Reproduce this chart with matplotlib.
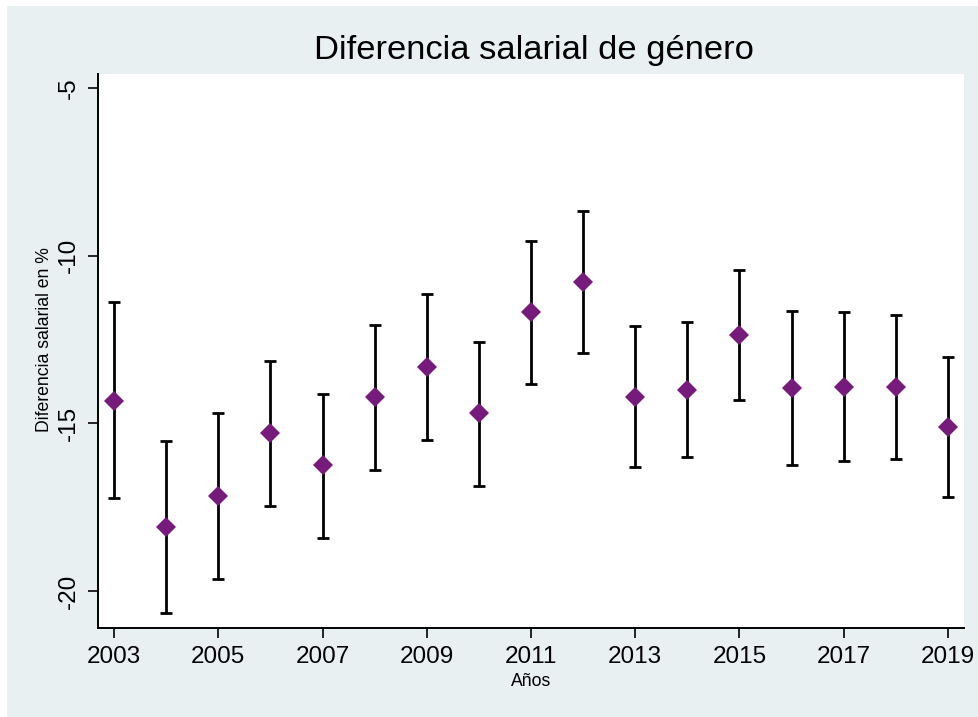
import numpy as np
import matplotlib
matplotlib.use("Agg")
from matplotlib import pyplot as plt
from matplotlib.patches import Rectangle

# data
years = [2003, 2004, 2005, 2006, 2007, 2008, 2009, 2010, 2011,
         2012, 2013, 2014, 2015, 2016, 2017, 2018, 2019]
gap = [-14.33, -18.08, -17.16, -15.30, -16.25, -14.22, -13.33, -14.70, -11.69,
       -10.79, -14.20, -14.00, -12.35, -13.94, -13.91, -13.92, -15.10]
ci_upper = [-11.38, -15.52, -14.68, -13.14, -14.11, -12.05, -11.15, -12.56, -9.56,
            -8.66, -12.10, -11.98, -10.41, -11.65, -11.69, -11.78, -13.01]
ci_lower = [-17.23, -20.64, -19.63, -17.47, -18.41, -16.38, -15.48, -16.86, -13.82,
            -12.91, -16.31, -16.01, -14.30, -16.25, -16.11, -16.05, -17.18]
xticks = [2003, 2005, 2007, 2009, 2011, 2013, 2015, 2017, 2019]
yticks = [-20, -15, -10, -5]

plt.rcParams['font.family'] = ['Liberation Sans', 'DejaVu Sans']

bg = '#e9f0f2'
purple = '#761b7c'

fig = plt.figure(figsize=(9.79, 7.17), dpi=100)
fig.patch.set_facecolor('white')
fig.patches.append(Rectangle((7 / 979, 0), 1, 1 - 6 / 717, transform=fig.transFigure,
                             facecolor=bg, edgecolor='none', zorder=-10))

ax = fig.add_axes([98 / 979, 1 - 628 / 717, 866 / 979, 554 / 717])
ax.set_facecolor('white')

gap = np.array(gap)
yerr = np.vstack([gap - np.array(ci_lower), np.array(ci_upper) - gap])
ax.errorbar(years, gap, yerr=yerr, fmt='none', ecolor='black',
            elinewidth=2.0, capsize=4.5, capthick=2.0, zorder=2)
ax.plot(years, gap, linestyle='none', marker='D', markersize=9.8,
        color=purple, markeredgewidth=0, zorder=3)

ax.set_xlim(2002.69, 2019.31)
ax.set_ylim(-21.1, -4.58)
ax.set_xticks(xticks)
ax.set_yticks(yticks)
ax.set_yticklabels([str(v) for v in yticks], rotation=90, va='center')

for side in ['top', 'right']:
    ax.spines[side].set_visible(False)
for side in ['left', 'bottom']:
    ax.spines[side].set_linewidth(1.4)
    ax.spines[side].set_color('black')
ax.tick_params(axis='both', direction='out', length=7, width=1.2,
               labelsize=17.5, pad=6)

fig.text(534 / 979, 1 - 50 / 717, 'Diferencia salarial de género',
         ha='center', va='center', fontsize=24.8)
fig.text(531 / 979, 1 - 681 / 717, 'Años', ha='center', va='center', fontsize=12.7)
fig.text(45 / 979, 1 - 340 / 717, 'Diferencia salarial en %', ha='center', va='center',
         rotation=90, fontsize=12.7)

fig.savefig('out.png', dpi=100)
